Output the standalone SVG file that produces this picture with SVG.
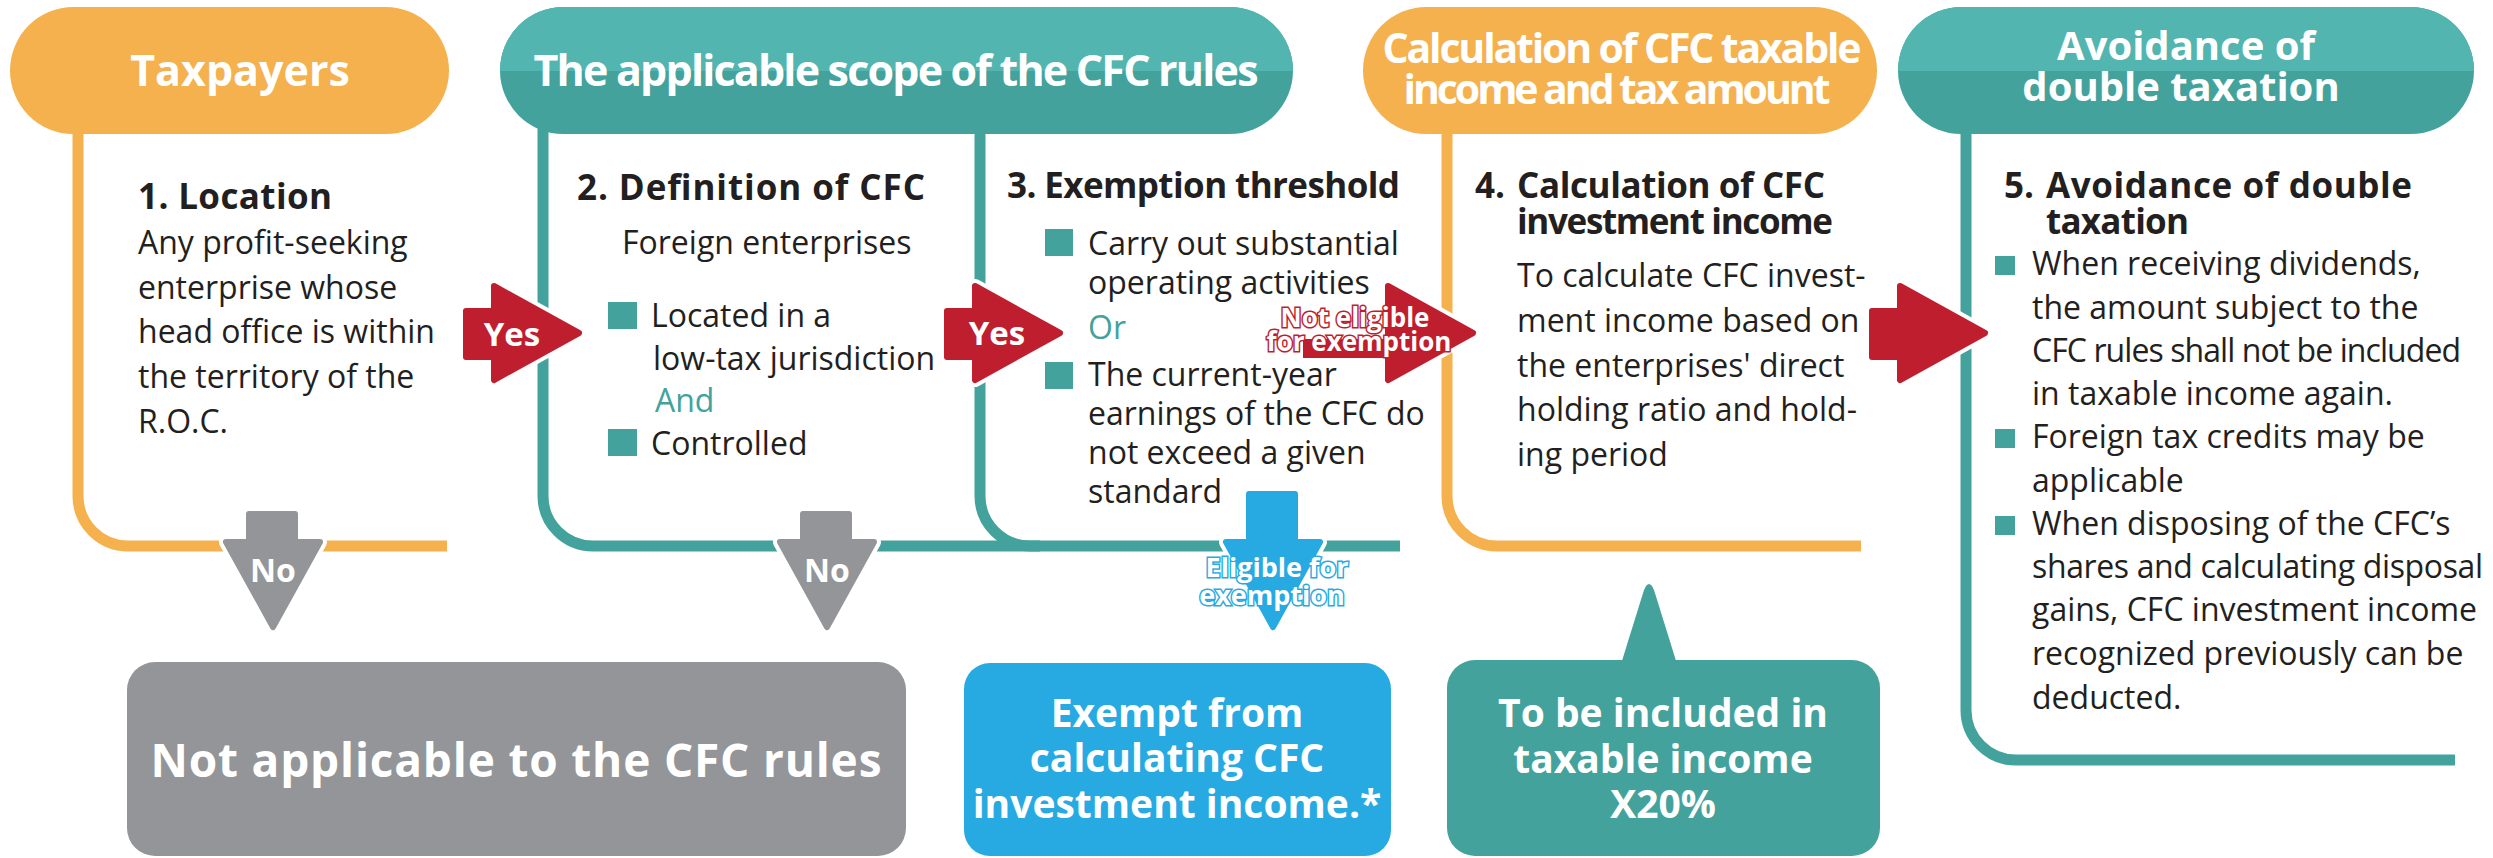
<svg xmlns="http://www.w3.org/2000/svg" xmlns:xlink="http://www.w3.org/1999/xlink" width="2493" height="858" viewBox="0 0 2493 858">
  <style>
    text { font-family: "Open Sans", "Liberation Sans", sans-serif; }
    .frame { fill: none; stroke-width: 11; stroke-linecap: butt; }
    .fo { stroke: #F4B14D; }
    .ft { stroke: #44A29D; }
    .pill-o { fill: #F4B14D; }
    .pill-td { fill: #44A29D; }
    .pill-tl { fill: #53B5B0; }
    .pilltxt { fill: #fff; font-weight: 700; text-anchor: middle; }
    .head { fill: #231F20; font-weight: 700; font-size: 35px; }
    .body { fill: #231F20; font-size: 32px; }
    .conj { fill: #44A29D; font-size: 32px; }
    .bullet { fill: #44A29D; }
    .halo { fill: #fff; stroke: #fff; stroke-width: 14; stroke-linejoin: round; }
    .red { fill: #BE1E2D; stroke: #BE1E2D; stroke-width: 6; stroke-linejoin: round; }
    .gray { fill: #939598; stroke: #939598; stroke-width: 6; stroke-linejoin: round; }
    .blue { fill: #27AAE1; stroke: #27AAE1; stroke-width: 6; stroke-linejoin: round; }
    .lbl { fill: #fff; font-weight: 700; text-anchor: middle; }
    .lbl-r { fill: #fff; stroke: #BE1E2D; stroke-width: 3; paint-order: stroke; font-weight: 700; font-size: 26px; text-anchor: middle; }
    .lbl-b { fill: #fff; stroke: #27AAE1; stroke-width: 3; paint-order: stroke; font-weight: 700; font-size: 27px; text-anchor: middle; }
    .boxtxt { fill: #fff; font-weight: 700; text-anchor: middle; }
  </style>
  <defs>
    <clipPath id="tophalf"><rect x="0" y="0" width="2493" height="71"/></clipPath>
    <!-- block arrow pointing right, tip at origin -->
    <path id="arrowR" d="M-116,-22 H-88 V-47 L-3,0 L-88,47 V24 H-116 Z"/>
    <path id="arrowRlong" d="M-136,-22 H-88 V-47 L-3,0 L-88,47 V24 H-136 Z"/>
    <path id="arrowHead" d="M-88,-47 L-3,0 L-88,47 Z"/>
  </defs>

  <!-- Column 1: taxpayers -->
  <g id="taxpayers">
    <path class="frame fo" d="M78,120 V496 A50,50 0 0 0 128,546 H447"/>
    <rect class="pill-o" x="10" y="7" width="439" height="127" rx="63.5"/>
    <text class="pilltxt" x="240" y="86" font-size="43">Taxpayers</text>
    <text class="head" x="138" y="209" textLength="194">1. Location</text>
    <text class="body" x="138" y="254">Any profit-seeking</text>
    <text class="body" x="138" y="299">enterprise whose</text>
    <text class="body" x="138" y="343">head office is within</text>
    <text class="body" x="138" y="388">the territory of the</text>
    <text class="body" x="138" y="433">R.O.C.</text>
  </g>

  <!-- Scope header shared by columns 2 and 3 -->
  <g id="scope-header">
    <rect class="pill-td" x="500" y="7" width="793" height="127" rx="63.5"/>
    <rect class="pill-tl" x="500" y="7" width="793" height="127" rx="63.5" clip-path="url(#tophalf)"/>
    <text class="pilltxt" x="896" y="86" font-size="43" textLength="725">The applicable scope of the CFC rules</text>
  </g>

  <!-- Column 2: definition of CFC -->
  <g id="definition">
    <path class="frame ft" d="M543,120 V496 A50,50 0 0 0 593,546 H1040"/>
    <text class="head" x="577" y="200" textLength="348">2. Definition of CFC</text>
    <text class="body" x="622" y="254">Foreign enterprises</text>
    <rect class="bullet" x="608" y="302" width="29" height="27"/>
    <text class="body" x="651" y="327">Located in a</text>
    <text class="body" x="653" y="370">low-tax jurisdiction</text>
    <text class="conj" x="655" y="412">And</text>
    <rect class="bullet" x="608" y="429" width="29" height="27"/>
    <text class="body" x="651" y="455">Controlled</text>
  </g>

  <!-- Column 3: exemption threshold -->
  <g id="threshold">
    <path class="frame ft" d="M980,120 V496 A50,50 0 0 0 1030,546 H1400"/>
    <text class="head" x="1007" y="198" textLength="393">3. Exemption threshold</text>
    <rect class="bullet" x="1045" y="229" width="28" height="27"/>
    <text class="body" x="1088" y="255">Carry out substantial</text>
    <text class="body" x="1088" y="294">operating activities</text>
    <text class="conj" x="1088" y="339">Or</text>
    <rect class="bullet" x="1045" y="362" width="28" height="27"/>
    <text class="body" x="1088" y="386">The current-year</text>
    <text class="body" x="1088" y="425">earnings of the CFC do</text>
    <text class="body" x="1088" y="464">not exceed a given</text>
    <text class="body" x="1088" y="503">standard</text>
  </g>

  <!-- Column 4: calculation -->
  <g id="calculation">
    <path class="frame fo" d="M1447,120 V496 A50,50 0 0 0 1497,546 H1861"/>
    <rect class="pill-o" x="1363" y="7" width="514" height="127" rx="63.5"/>
    <text class="pilltxt" x="1622" y="63" font-size="41" textLength="479">Calculation of CFC taxable</text>
    <text class="pilltxt" x="1617" y="104" font-size="41" textLength="427">income and tax amount</text>
    <text class="head" x="1475" y="198">4.</text>
    <text class="head" x="1517" y="198" textLength="308">Calculation of CFC</text>
    <text class="head" x="1517" y="234" textLength="316">investment income</text>
    <text class="body" x="1517" y="287">To calculate CFC invest-</text>
    <text class="body" x="1517" y="332">ment income based on</text>
    <text class="body" x="1517" y="377">the enterprises' direct</text>
    <text class="body" x="1517" y="421">holding ratio and hold-</text>
    <text class="body" x="1517" y="466">ing period</text>
  </g>

  <!-- Column 5: avoidance of double taxation -->
  <g id="avoidance">
    <path class="frame ft" d="M1966,120 V710 A50,50 0 0 0 2016,760 H2455"/>
    <rect class="pill-td" x="1898" y="7" width="576" height="127" rx="63.5"/>
    <rect class="pill-tl" x="1898" y="7" width="576" height="127" rx="63.5" clip-path="url(#tophalf)"/>
    <text class="pilltxt" x="2186" y="60" font-size="40">Avoidance of</text>
    <text class="pilltxt" x="2181" y="101" font-size="40">double taxation</text>
    <text class="head" x="2004" y="198">5.</text>
    <text class="head" x="2046" y="198" textLength="366">Avoidance of double</text>
    <text class="head" x="2046" y="234" textLength="143">taxation</text>
    <rect class="bullet" x="1995" y="256" width="20" height="19"/>
    <text class="body" x="2032" y="275">When receiving dividends,</text>
    <text class="body" x="2032" y="319">the amount subject to the</text>
    <text class="body" x="2032" y="362" textLength="429">CFC rules shall not be included</text>
    <text class="body" x="2032" y="405">in taxable income again.</text>
    <rect class="bullet" x="1995" y="429" width="20" height="19"/>
    <text class="body" x="2032" y="448">Foreign tax credits may be</text>
    <text class="body" x="2032" y="492">applicable</text>
    <rect class="bullet" x="1995" y="516" width="20" height="19"/>
    <text class="body" x="2032" y="535">When disposing of the CFC’s</text>
    <text class="body" x="2032" y="578" textLength="451">shares and calculating disposal</text>
    <text class="body" x="2032" y="621">gains, CFC investment income</text>
    <text class="body" x="2032" y="665">recognized previously can be</text>
    <text class="body" x="2032" y="709">deducted.</text>
  </g>

  <!-- Outcome boxes -->
  <g id="not-applicable">
    <rect x="127" y="662" width="779" height="194" rx="28" fill="#939598"/>
    <text class="boxtxt" x="516" y="777" font-size="46" textLength="731">Not applicable to the CFC rules</text>
  </g>
  <g id="exempt">
    <rect x="964" y="663" width="427" height="193" rx="26" fill="#27AAE1"/>
    <text class="boxtxt" x="1177" y="727" font-size="39">Exempt from</text>
    <text class="boxtxt" x="1177" y="772" font-size="39">calculating CFC</text>
    <text class="boxtxt" x="1177" y="818" font-size="39">investment income.*</text>
  </g>
  <g id="included">
    <path d="M1621,664 L1644,590 Q1649,578 1654,590 L1677,664 Z" fill="#44A29D"/>
    <rect x="1447" y="660" width="433" height="196" rx="28" fill="#44A29D"/>
    <text class="boxtxt" x="1663" y="727" font-size="39">To be included in</text>
    <text class="boxtxt" x="1663" y="773" font-size="39">taxable income</text>
    <text class="boxtxt" x="1663" y="818" font-size="39">X20%</text>
  </g>

  <!-- Connectors -->
  <g id="connectors">
    <!-- Yes: location to definition -->
    <use xlink:href="#arrowR" class="halo" transform="translate(582,333)"/>
    <use xlink:href="#arrowR" class="red" transform="translate(582,333)"/>
    <text class="lbl" x="512" y="346" font-size="33">Yes</text>
    <!-- Yes: definition to threshold -->
    <use xlink:href="#arrowR" class="halo" transform="translate(1063,333)"/>
    <use xlink:href="#arrowR" class="red" transform="translate(1063,333)"/>
    <text class="lbl" x="997" y="345" font-size="33">Yes</text>
    <!-- Not eligible: threshold to calculation -->
    <use xlink:href="#arrowHead" class="halo" transform="translate(1476,333)"/>
    <rect x="1303" y="339" width="92" height="19" fill="#BE1E2D"/>
    <use xlink:href="#arrowHead" class="red" transform="translate(1476,333)"/>
    <text class="lbl-r" x="1355" y="327">Not eligible</text>
    <text class="lbl-r" x="1359" y="351">for exemption</text>
    <!-- calculation to avoidance -->
    <use xlink:href="#arrowR" class="halo" transform="translate(1988,333)"/>
    <use xlink:href="#arrowR" class="red" transform="translate(1988,333)"/>
    <!-- No: location to not applicable -->
    <use xlink:href="#arrowR" class="halo" transform="translate(273,630) rotate(90)"/>
    <use xlink:href="#arrowR" class="gray" transform="translate(273,630) rotate(90)"/>
    <text class="lbl" x="273" y="582" font-size="32">No</text>
    <!-- No: definition to not applicable -->
    <use xlink:href="#arrowR" class="halo" transform="translate(827,630) rotate(90)"/>
    <use xlink:href="#arrowR" class="gray" transform="translate(827,630) rotate(90)"/>
    <text class="lbl" x="827" y="582" font-size="32">No</text>
    <!-- Eligible: threshold to exempt -->
    <use xlink:href="#arrowRlong" class="halo" transform="translate(1273,630) rotate(90)"/>
    <use xlink:href="#arrowRlong" class="blue" transform="translate(1273,630) rotate(90)"/>
    <text class="lbl-b" x="1277" y="577">Eligible for</text>
    <text class="lbl-b" x="1272" y="605">exemption</text>
  </g>
</svg>
